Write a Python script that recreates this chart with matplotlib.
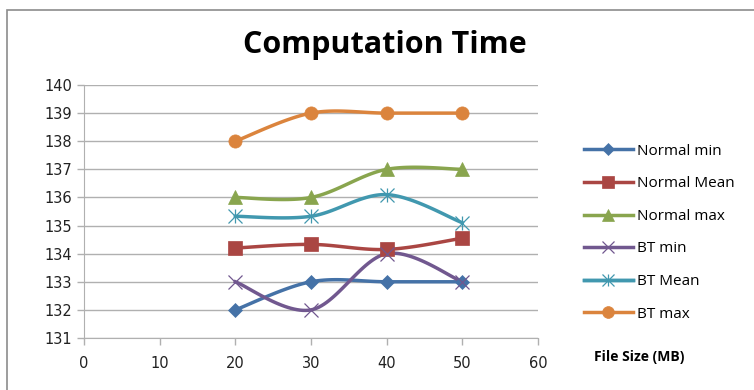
import numpy as np
import matplotlib
matplotlib.use("Agg")
import matplotlib.pyplot as plt
from matplotlib.patches import Rectangle
from matplotlib.legend_handler import HandlerTuple

# data
file_size = [20, 30, 40, 50]
normal_min = [132, 133, 133, 133]
normal_mean = [134.2, 134.33, 134.15, 134.55]
normal_max = [136, 136, 137, 137]
bt_min = [133, 132, 134, 133]
bt_mean = [135.33, 135.33, 136.1, 135.1]
bt_max = [138, 139, 139, 139]

series = [
    ("Normal min", normal_min, "#4572A7", ["D"], 7.5),
    ("Normal Mean", normal_mean, "#AA4643", ["s"], 9.5),
    ("Normal max", normal_max, "#89A54E", ["^"], 9.5),
    ("BT min", bt_min, "#71588F", ["x"], 10),
    ("BT Mean", bt_mean, "#4198AF", ["x", "|"], 10),
    ("BT max", bt_max, "#DB843D", ["o"], 9.5),
]


def smooth(x, y, n=30):
    # Excel style smoothed line (Catmull-Rom through the points)
    x = np.asarray(x, float)
    y = np.asarray(y, float)
    px = np.concatenate([[x[0]], x, [x[-1]]])
    py = np.concatenate([[y[0]], y, [y[-1]]])
    xs, ys = [], []
    t = np.linspace(0, 1, n)
    for i in range(1, len(px) - 2):
        p0, p1, p2, p3 = px[i - 1], px[i], px[i + 1], px[i + 2]
        q0, q1, q2, q3 = py[i - 1], py[i], py[i + 1], py[i + 2]
        b1x, b1y = p1 + (p2 - p0) / 6, q1 + (q2 - q0) / 6
        b2x, b2y = p2 - (p3 - p1) / 6, q2 - (q3 - q1) / 6
        bx = (1 - t) ** 3 * p1 + 3 * (1 - t) ** 2 * t * b1x + 3 * (1 - t) * t ** 2 * b2x + t ** 3 * p2
        by = (1 - t) ** 3 * q1 + 3 * (1 - t) ** 2 * t * b1y + 3 * (1 - t) * t ** 2 * b2y + t ** 3 * q2
        xs.extend(bx)
        ys.extend(by)
    return xs, ys


fig = plt.figure(figsize=(7.54, 3.90), dpi=100)
fig.patches.append(Rectangle((7 / 754, -0.1), 1.1, (390 - 10) / 390 + 0.1,
                             transform=fig.transFigure, fill=False,
                             edgecolor="#8c8c8c", linewidth=1.2))

ax = fig.add_axes([84 / 754, (390 - 338) / 390, (538 - 84) / 754, (338 - 85) / 390])

handles = []
for name, vals, col, mks, ms in series:
    sx, sy = smooth(file_size, vals)
    ax.plot(sx, sy, color=col, linewidth=2.5, zorder=3)
    parts = []
    for mk in mks:
        thin = mk in ("x", "|")
        mew = 0.9 if thin else 0.5
        ax.plot(file_size, vals, linestyle="none", marker=mk, markersize=ms,
                color=col, markeredgecolor=col, markeredgewidth=mew, zorder=4)
        h, = ax.plot([], [], color=col, linewidth=2.5, marker=mk, markersize=ms - 1,
                     markeredgewidth=mew)
        parts.append(h)
    handles.append(tuple(parts))

ax.set_xlim(0, 60)
ax.set_ylim(131, 140)
ax.set_xticks(range(0, 61, 10))
ax.set_yticks(range(131, 141))
ax.grid(axis="y", color="#b0b0b0", linewidth=1)
ax.set_axisbelow(True)
for s in ["top", "right"]:
    ax.spines[s].set_visible(False)
ax.spines["left"].set_color("#b0b0b0")
ax.spines["bottom"].set_color("#b0b0b0")
ax.tick_params(axis="both", colors="#b0b0b0", labelcolor="#222222", labelsize=10.5,
               length=5, width=1, direction="out")
ax.tick_params(axis="x", pad=8)

fig.text(0.511, 0.885, "Computation Time", ha="center", va="center",
         fontsize=22, fontweight="bold", family="Open Sans")
fig.text(0.848, 0.085, "File Size (MB)", ha="center", va="center",
         fontsize=10, fontweight="bold", family="Open Sans")

fig.legend(handles=handles, labels=[s[0] for s in series],
           handler_map={tuple: HandlerTuple(ndivide=1)},
           loc="upper left", bbox_to_anchor=(570 / 754, 1 - 130 / 390),
           frameon=False, prop={"family": "Open Sans", "size": 11},
           handlelength=3.2, handletextpad=0.3, labelspacing=1.15)

fig.savefig("out.png", dpi=100)
